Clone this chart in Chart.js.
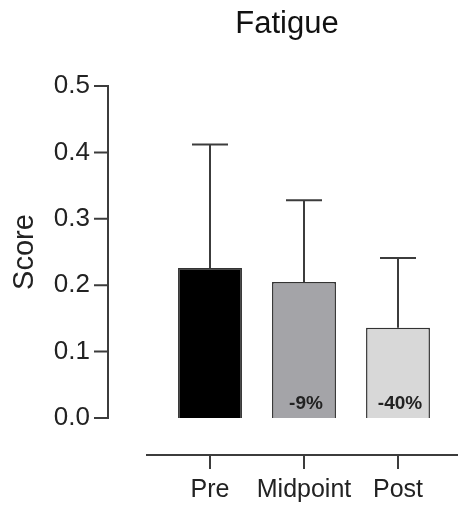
<!DOCTYPE html>
<html><head><meta charset="utf-8">
<script src="https://cdn.jsdelivr.net/npm/chart.js@4/dist/chart.umd.min.js"></script>
<style>html,body{margin:0;padding:0;background:#fff;overflow:hidden;}#wrap{width:458px;height:505px;}</style>
</head><body><div id="wrap"><canvas id="c" width="458" height="505"></canvas></div>
<script>
const chartTitle = 'Fatigue';
const yAxisTitle = 'Score';
const categories = ['Pre', 'Midpoint', 'Post'];
const meanScores = [0.226, 0.205, 0.136];
const errorUpper = [0.186, 0.123, 0.105];
const changeLabels = ['', '-9%', '-40%'];
const yTicks = [0, 0.1, 0.2, 0.3, 0.4, 0.5];
const barColors = ['#000000', '#a4a4a8', '#d8d8d8'];

const FONT = "'Liberation Sans', Arial, Helvetica, sans-serif";
const AXIS_COLOR = '#3c3c3c';

const decorPlugin = {
  id: 'decor',
  afterDatasetsDraw(chart) {
    const ctx = chart.ctx;
    const ys = chart.scales.y;
    const ca = chart.chartArea;
    const meta = chart.getDatasetMeta(0);
    ctx.save();
    // error bars (upper only)
    ctx.strokeStyle = AXIS_COLOR;
    ctx.lineWidth = 2;
    meta.data.forEach((bar, i) => {
      const top = ys.getPixelForValue(meanScores[i] + errorUpper[i]);
      ctx.beginPath();
      ctx.moveTo(bar.x, bar.y);
      ctx.lineTo(bar.x, top);
      ctx.moveTo(bar.x - 18, top);
      ctx.lineTo(bar.x + 18, top);
      ctx.stroke();
    });
    // change labels inside bars
    ctx.fillStyle = '#222';
    ctx.font = 'bold 19px ' + FONT;
    ctx.textAlign = 'center';
    ctx.textBaseline = 'middle';
    meta.data.forEach((bar, i) => {
      if (changeLabels[i]) ctx.fillText(changeLabels[i], bar.x + 2, ys.getPixelForValue(0) - 14);
    });
    // y axis line with ticks
    const yx = ca.left - 55;
    ctx.strokeStyle = AXIS_COLOR;
    ctx.lineWidth = 2;
    ctx.beginPath();
    ctx.moveTo(yx, ys.getPixelForValue(yTicks[0]));
    ctx.lineTo(yx, ys.getPixelForValue(yTicks[yTicks.length - 1]));
    yTicks.forEach(v => {
      const py = ys.getPixelForValue(v);
      ctx.moveTo(yx - 14, py);
      ctx.lineTo(yx + 1, py);
    });
    ctx.stroke();
    // x axis line (offset below plot) with ticks
    const xy = ca.bottom + 37;
    ctx.beginPath();
    ctx.moveTo(ca.left - 17, xy);
    ctx.lineTo(chart.width, xy);
    meta.data.forEach(bar => {
      ctx.moveTo(bar.x, xy);
      ctx.lineTo(bar.x, xy + 14);
    });
    ctx.stroke();
    // title
    ctx.fillStyle = '#111';
    ctx.font = '31px ' + FONT;
    ctx.textAlign = 'center';
    ctx.textBaseline = 'alphabetic';
    ctx.fillText(chartTitle, (yx + chart.width) / 2 + 4, 33);
    ctx.restore();
  }
};

new Chart(document.getElementById('c'), {
  type: 'bar',
  data: {
    labels: categories,
    datasets: [{
      data: meanScores,
      backgroundColor: barColors,
      borderColor: '#333',
      borderWidth: 1.5,
      categoryPercentage: 1,
      barPercentage: 0.68
    }]
  },
  options: {
    responsive: false,
    animation: false,
    devicePixelRatio: 1,
    layout: { padding: { top: 86, left: 8, right: 13, bottom: 0 } },
    plugins: { legend: { display: false }, tooltip: { enabled: false }, title: { display: false } },
    scales: {
      y: {
        min: 0, max: 0.5,
        afterBuildTicks: s => { s.ticks = yTicks.map(v => ({ value: v })); },
        afterFit: s => { s.width = 155; s.paddingTop = 0; s.paddingBottom = 0; },
        grid: { display: false, drawTicks: false },
        border: { display: false },
        ticks: { font: { size: 26, family: FONT }, color: '#222', padding: 73, callback: v => Number(v).toFixed(1) },
        title: { display: true, text: yAxisTitle, font: { size: 29, family: FONT }, color: '#222', padding: { top: 0, bottom: 0 } }
      },
      x: {
        offset: true,
        afterFit: s => { s.paddingLeft = 0; s.paddingRight = 0; s.height = 87; },
        grid: { display: false, drawTicks: false },
        border: { display: false },
        ticks: { font: { size: 25, family: FONT }, color: '#222', padding: 57, maxRotation: 0, minRotation: 0, autoSkip: false }
      }
    }
  },
  plugins: [decorPlugin]
});
</script>
</body></html>
